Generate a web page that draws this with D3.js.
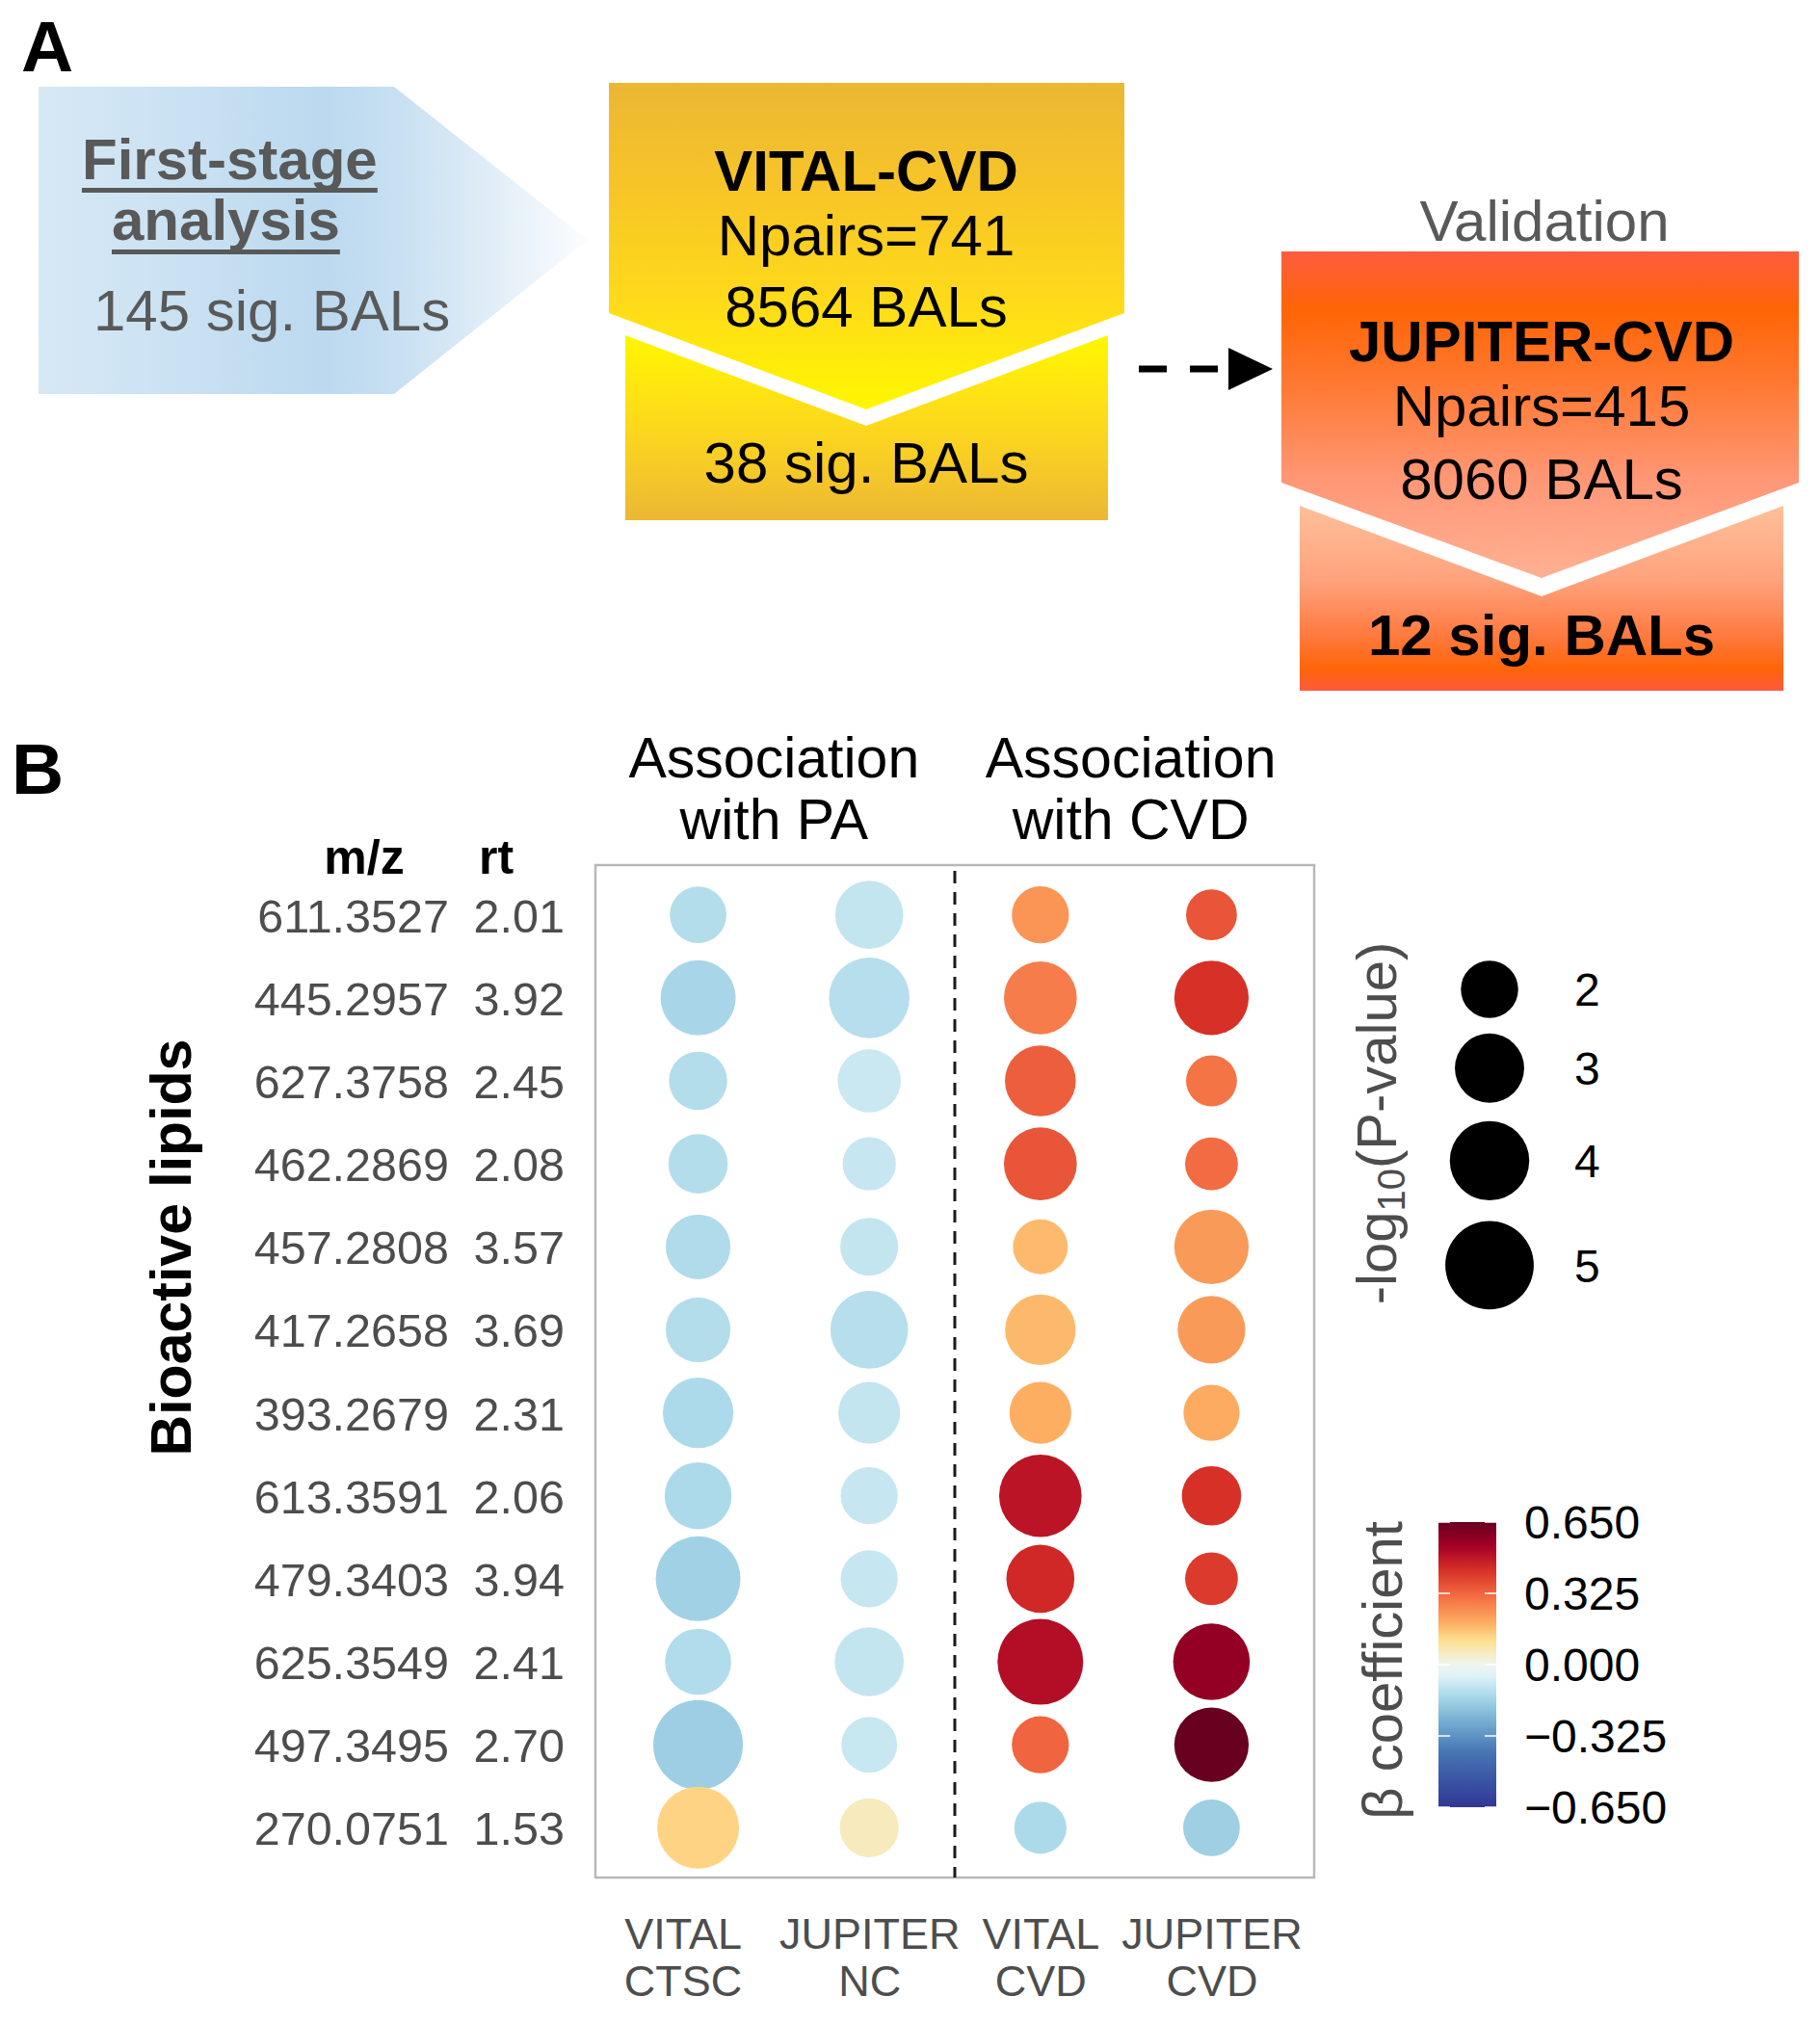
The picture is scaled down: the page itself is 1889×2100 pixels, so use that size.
<!DOCTYPE html>
<html>
<head>
<meta charset="utf-8">
<script src="https://cdn.jsdelivr.net/npm/d3@7"></script>
<style>
  html, body { margin: 0; padding: 0; background: #ffffff; }
  svg { display: block; }
  text { font-family: "Liberation Sans", Arial, Helvetica, sans-serif; }
</style>
</head>
<body>
<div id="chart"></div>
<script>
// ------------------------------------------------------------------
// DATA
// ------------------------------------------------------------------
const lipidMz = ["611.3527","445.2957","627.3758","462.2869","457.2808","417.2658",
                 "393.2679","613.3591","479.3403","625.3549","497.3495","270.0751"];
const lipidRt = ["2.01","3.92","2.45","2.08","3.57","3.69","2.31","2.06","3.94","2.41","2.70","1.53"];

const cohorts = ["VITAL CTSC","JUPITER NC","VITAL CVD","JUPITER CVD"];
const groupTitles = ["Association with PA","Association with CVD"];

// beta coefficients (colour)
const betaVitalCTSC  = [-0.125,-0.147,-0.125,-0.125,-0.132,-0.127,-0.136,-0.136,-0.162,-0.130,-0.170, 0.130];
const betaJupiterNC  = [-0.100,-0.121,-0.089,-0.094,-0.100,-0.121,-0.100,-0.094,-0.094,-0.100,-0.092, 0.060];
const betaVitalCVD   = [ 0.236, 0.280, 0.340, 0.357, 0.172, 0.173, 0.190, 0.494, 0.448, 0.509, 0.328,-0.136];
const betaJupiterCVD = [ 0.357, 0.430, 0.297, 0.314, 0.227, 0.227, 0.196, 0.430, 0.410, 0.572, 0.648,-0.168];

// -log10(P) (size)
const logpVitalCTSC  = [1.95, 3.56, 2.08, 2.16, 2.60, 2.60, 3.12, 2.80, 4.58, 2.72, 5.14, 4.26];
const logpJupiterNC  = [2.89, 4.12, 2.47, 1.70, 2.05, 3.82, 2.36, 1.98, 1.98, 2.98, 1.88, 2.13];
const logpVitalCVD   = [1.98, 3.34, 3.15, 3.34, 1.81, 3.12, 2.36, 4.33, 2.89, 4.69, 1.98, 1.63];
const logpJupiterCVD = [1.54, 3.49, 1.54, 1.67, 3.49, 2.85, 1.91, 2.16, 1.67, 3.72, 3.49, 1.95];

const sizeBreaks = [2, 3, 4, 5];
const betaTicks = [0.65, 0.325, 0, -0.325, -0.65];
const betaTickLabels = ["0.650", "0.325", "0.000", "\u22120.325", "\u22120.650"];

// flow diagram (panel A) texts
const stage1Title = ["First-stage", "analysis"];
const stage1Count = "145 sig. BALs";
const vitalLines = ["VITAL-CVD", "Npairs=741", "8564 BALs"];
const vitalResult = "38 sig. BALs";
const jupiterLabel = "Validation";
const jupiterLines = ["JUPITER-CVD", "Npairs=415", "8060 BALs"];
const jupiterResult = "12 sig. BALs";

// ------------------------------------------------------------------
// STYLE / LAYOUT
// ------------------------------------------------------------------
const W = 1889, H = 2100;
const GREY = "#4d4d4d";
const DGREY = "#595959";
const betaColorStops = [-0.65, -0.40, -0.26, -0.14, -0.05, 0.0, 0.11, 0.19, 0.31, 0.43, 0.54, 0.65];
const betaColors = ["#313695","#4575b4","#74add1","#abd9e9","#e0f3f8","#eef5f0",
                    "#fee090","#fdae61","#f46d43","#d73027","#a50026","#67001f"];

const panel = { left: 618, right: 1364, top: 898, bottom: 1949 };

const svg = d3.select("#chart").append("svg")
  .attr("width", W).attr("height", H)
  .attr("viewBox", `0 0 ${W} ${H}`);
svg.append("rect").attr("width", W).attr("height", H).attr("fill", "#ffffff");
const defs = svg.append("defs");

function linGrad(id, x1, y1, x2, y2, stops) {
  const g = defs.append("linearGradient").attr("id", id)
    .attr("gradientUnits", "userSpaceOnUse")
    .attr("x1", x1).attr("y1", y1).attr("x2", x2).attr("y2", y2);
  stops.forEach(([o, c]) => g.append("stop").attr("offset", o).attr("stop-color", c));
}

// ------------------------------------------------------------------
// PANEL A : flow diagram
// ------------------------------------------------------------------
const A = svg.append("g");
A.append("text").attr("x", 22).attr("y", 74).attr("font-size", 75).attr("font-weight", "bold")
  .attr("fill", "#000").text("A");

// blue arrow shape
linGrad("gBlue", 40, 0, 610, 0, [[0, "#d7e8f5"], [0.2, "#cde3f3"], [0.52, "#bbd9ef"], [0.66, "#c8e0f2"], [0.82, "#e0edf7"], [1, "#fbfdff"]]);
A.append("polygon").attr("points", "40,90 409,90 610,249 409,409 40,409").attr("fill", "url(#gBlue)");

const t1 = A.append("text").attr("x", 85).attr("y", 186).attr("font-size", 60).attr("font-weight", "bold")
  .attr("fill", DGREY).text(stage1Title[0]);
const t2 = A.append("text").attr("x", 116).attr("y", 249).attr("font-size", 60).attr("font-weight", "bold")
  .attr("fill", DGREY).text(stage1Title[1]);
[[t1, 195], [t2, 259]].forEach(([t, y]) => {
  const b = t.node().getBBox();
  A.append("rect").attr("x", b.x).attr("y", y).attr("width", b.width).attr("height", 5).attr("fill", DGREY);
});
A.append("text").attr("x", 97).attr("y", 343).attr("font-size", 60).attr("fill", DGREY).text(stage1Count);

// yellow box
linGrad("gYel1", 0, 86, 0, 425, [[0, "#ebb735"], [0.35, "#f8c626"], [0.65, "#fed91b"], [1, "#fff700"]]);
linGrad("gYel2", 0, 348, 0, 540, [[0, "#fff700"], [0.35, "#ffe115"], [0.7, "#f7cb27"], [1, "#ebb735"]]);
A.append("polygon").attr("points", "632,86 1167,86 1167,325 899,425 632,325").attr("fill", "url(#gYel1)");
A.append("polygon").attr("points", "649,348 899,442 1150,348 1150,540 649,540").attr("fill", "url(#gYel2)");
const yelBase = [198, 265, 339];
vitalLines.forEach((s, i) => {
  A.append("text").attr("x", 899).attr("y", yelBase[i]).attr("text-anchor", "middle")
    .attr("font-size", 60).attr("font-weight", i === 0 ? "bold" : "normal").attr("fill", "#000").text(s);
});
A.append("text").attr("x", 899).attr("y", 501).attr("text-anchor", "middle")
  .attr("font-size", 60).attr("fill", "#000").text(vitalResult);

// dashed arrow
A.append("line").attr("x1", 1182).attr("x2", 1268).attr("y1", 383).attr("y2", 383)
  .attr("stroke", "#000").attr("stroke-width", 7).attr("stroke-dasharray", "29,24");
A.append("polygon").attr("points", "1275,361 1321,383 1275,405").attr("fill", "#000");

// orange box
linGrad("gOr1", 0, 261, 0, 600, [[0, "#ff5c3f"], [0.18, "#ff6505"], [0.42, "#ff7a35"], [0.7, "#ff9776"], [1, "#ffb193"]]);
linGrad("gOr2", 0, 525, 0, 717, [[0, "#ffc098"], [0.4, "#ffa27e"], [0.7, "#ff7a40"], [0.88, "#ff6508"], [1, "#ff5a3c"]]);
A.append("polygon").attr("points", "1330,261 1867,261 1867,501 1600,600 1330,501").attr("fill", "url(#gOr1)");
A.append("polygon").attr("points", "1349,525 1600,619 1851,525 1851,717 1349,717").attr("fill", "url(#gOr2)");
A.append("text").attr("x", 1603).attr("y", 250).attr("text-anchor", "middle")
  .attr("font-size", 60).attr("fill", DGREY).text(jupiterLabel);
const orBase = [375, 442, 518];
jupiterLines.forEach((s, i) => {
  A.append("text").attr("x", 1600).attr("y", orBase[i]).attr("text-anchor", "middle")
    .attr("font-size", 60).attr("font-weight", i === 0 ? "bold" : "normal").attr("fill", "#000").text(s);
});
A.append("text").attr("x", 1600).attr("y", 680).attr("text-anchor", "middle")
  .attr("font-size", 60).attr("font-weight", "bold").attr("fill", "#000").text(jupiterResult);

// ------------------------------------------------------------------
// PANEL B : bubble chart
// ------------------------------------------------------------------
const B = svg.append("g");
B.append("text").attr("x", 12).attr("y", 824).attr("font-size", 75).attr("font-weight", "bold")
  .attr("fill", "#000").text("B");

const x = d3.scalePoint().domain(cohorts).range([panel.left, panel.right]).padding(0.6);
const y = d3.scalePoint().domain(lipidMz).range([panel.top, panel.bottom]).padding(0.6);
const r = d3.scaleRadial().domain([2, 5]).range([29.75, 45.9]);
const color = d3.scaleLinear().domain(betaColorStops).range(betaColors)
  .interpolate(d3.interpolateRgb).clamp(true);

const betaSeries = [betaVitalCTSC, betaJupiterNC, betaVitalCVD, betaJupiterCVD];
const logpSeries = [logpVitalCTSC, logpJupiterNC, logpVitalCVD, logpJupiterCVD];
const points = [];
cohorts.forEach((c, j) => lipidMz.forEach((m, i) => {
  points.push({ cohort: c, mz: m, beta: betaSeries[j][i], logp: logpSeries[j][i] });
}));

// group titles
const titleCenters = [
  (x(cohorts[0]) + x(cohorts[1])) / 2 - 10,
  (x(cohorts[2]) + x(cohorts[3])) / 2 + 5
];
groupTitles.forEach((t, k) => {
  const words = t.split(" with ");
  const tt = B.append("text").attr("text-anchor", "middle").attr("font-size", 59).attr("fill", "#000");
  tt.append("tspan").attr("x", titleCenters[k]).attr("y", 807).text(words[0]);
  tt.append("tspan").attr("x", titleCenters[k]).attr("y", 871).text("with " + words[1]);
});

// panel border
B.append("rect").attr("x", panel.left).attr("y", panel.top)
  .attr("width", panel.right - panel.left).attr("height", panel.bottom - panel.top)
  .attr("fill", "none").attr("stroke", "#b8b8b8").attr("stroke-width", 2.5);

// divider
const divX = (x(cohorts[1]) + x(cohorts[2])) / 2;
B.append("line").attr("x1", divX).attr("x2", divX).attr("y1", panel.top + 6).attr("y2", panel.bottom)
  .attr("stroke", "#1a1a1a").attr("stroke-width", 3).attr("stroke-dasharray", "13,9");

// bubbles
B.append("g").selectAll("circle").data(points).join("circle")
  .attr("cx", d => x(d.cohort)).attr("cy", d => y(d.mz))
  .attr("r", d => r(d.logp)).attr("fill", d => color(d.beta));

// left axes: m/z and rt labels
const mzAxis = B.append("g").attr("transform", "translate(466,0)")
  .call(d3.axisLeft(y).tickSize(0).tickPadding(0));
const rtAxis = B.append("g").attr("transform", "translate(586,0)")
  .call(d3.axisLeft(y).tickSize(0).tickPadding(0).tickFormat((d, i) => lipidRt[i]));
[mzAxis, rtAxis].forEach(g => {
  g.select(".domain").remove();
  g.attr("font-family", null).attr("font-size", null);
  g.selectAll("text").attr("font-size", 48.5).attr("fill", GREY).attr("dy", "0.36em");
});

B.append("text").attr("x", 378).attr("y", 907).attr("text-anchor", "middle")
  .attr("font-size", 50).attr("font-weight", "bold").attr("fill", "#000").text("m/z");
B.append("text").attr("x", 515).attr("y", 907).attr("text-anchor", "middle")
  .attr("font-size", 50).attr("font-weight", "bold").attr("fill", "#000").text("rt");

B.append("text").attr("transform", "translate(198,1295) rotate(-90)").attr("text-anchor", "middle")
  .attr("font-size", 59).attr("font-weight", "bold").attr("fill", "#000").text("Bioactive lipids");

// bottom axis: cohort labels (two lines)
const xAxis = B.append("g").attr("transform", `translate(0,${panel.bottom})`)
  .call(d3.axisBottom(x).tickSize(0).tickPadding(0));
xAxis.select(".domain").remove();
xAxis.attr("font-family", null).attr("font-size", null);
xAxis.selectAll("text").each(function(d, i) {
  const t = d3.select(this).attr("y", null).attr("dy", null).text(null)
    .attr("font-size", 45).attr("fill", GREY);
  const shift = i === 0 ? -16 : 0;
  d.split(" ").forEach((w, k) => t.append("tspan").attr("x", shift).attr("y", k === 0 ? 74 : 123).text(w));
});

// ------------------------------------------------------------------
// LEGENDS
// ------------------------------------------------------------------
// size legend (key spacing proportional to the symbol sizes, as in ggplot)
const legX = 1546;
const legY0 = 1027;
const keyFactor = 1.245;
let cy = legY0;
const legCenters = sizeBreaks.map((v, i) => {
  if (i > 0) cy += keyFactor * (r(sizeBreaks[i - 1]) + r(v));
  return cy;
});
const sizeLeg = B.append("g");
sizeLeg.selectAll("circle").data(sizeBreaks).join("circle")
  .attr("cx", legX).attr("cy", (d, i) => legCenters[i]).attr("r", d => r(d)).attr("fill", "#000");
sizeLeg.selectAll("text").data(sizeBreaks).join("text")
  .attr("x", 1634).attr("y", (d, i) => legCenters[i]).attr("dy", "0.36em")
  .attr("font-size", 48).attr("fill", "#000").text(d => d);
const lt = sizeLeg.append("text").attr("transform", "translate(1449,1166) rotate(-90)")
  .attr("text-anchor", "middle").attr("font-size", 58).attr("fill", GREY);
lt.append("tspan").text("-log");
lt.append("tspan").attr("font-size", 40).attr("dy", "0.22em").text("10");
lt.append("tspan").attr("dy", "-0.16em").text("(P-value)");

// colour bar
const bar = { x: 1493, w: 60, top: 1580, bottom: 1876 };
const yBar = d3.scaleLinear().domain([-0.65, 0.65]).range([bar.bottom, bar.top]);
const cg = defs.append("linearGradient").attr("id", "gBeta").attr("gradientUnits", "userSpaceOnUse")
  .attr("x1", 0).attr("x2", 0).attr("y1", bar.bottom).attr("y2", bar.top);
d3.range(0, 1.0001, 0.02).forEach(t => {
  const v = -0.65 + 1.3 * t;
  cg.append("stop").attr("offset", t).attr("stop-color", color(v));
});
B.append("rect").attr("x", bar.x).attr("y", bar.top).attr("width", bar.w)
  .attr("height", bar.bottom - bar.top).attr("fill", "url(#gBeta)");
const ticksG = B.append("g");
betaTicks.forEach(v => {
  ticksG.append("line").attr("x1", bar.x).attr("x2", bar.x + 12).attr("y1", yBar(v)).attr("y2", yBar(v))
    .attr("stroke", "#ffffff").attr("stroke-opacity", 0.75).attr("stroke-width", 2);
  ticksG.append("line").attr("x1", bar.x + bar.w - 12).attr("x2", bar.x + bar.w).attr("y1", yBar(v)).attr("y2", yBar(v))
    .attr("stroke", "#ffffff").attr("stroke-opacity", 0.75).attr("stroke-width", 2);
});
B.append("g").selectAll("text").data(betaTicks).join("text")
  .attr("x", 1582).attr("y", d => yBar(d)).attr("dy", "0.36em")
  .attr("font-size", 48).attr("fill", "#000").text((d, i) => betaTickLabels[i]);
B.append("text").attr("transform", "translate(1455,1734) rotate(-90)").attr("text-anchor", "middle")
  .attr("font-size", 58).attr("fill", GREY).text("\u03b2 coefficient");
</script>
</body>
</html>
